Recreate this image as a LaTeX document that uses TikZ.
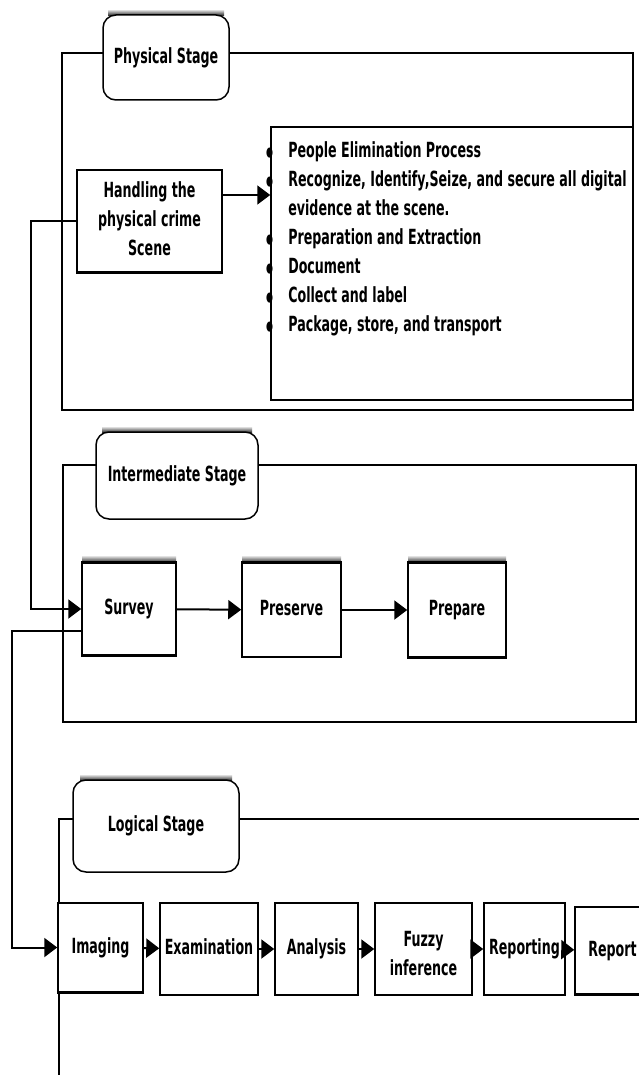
\documentclass[tikz,border=0pt]{standalone}
\usepackage{fontspec}
\usepackage{graphicx}
\setmainfont{DejaVu Sans}
\usetikzlibrary{arrows.meta}
\newcommand{\stk}[1]{\scalebox{0.89}[1.47]{\begin{tabular}{@{}c@{}}#1\end{tabular}}}
\newcommand{\bul}{\raisebox{0.6pt}{\fontsize{9pt}{9pt}\selectfont ●}}
\begin{document}
\begin{tikzpicture}[x=1pt,y=1pt,
  every node/.style={font=\bfseries\fontsize{14.2pt}{19.7pt}\selectfont, inner sep=0pt},
  box/.style={draw, line width=1.5pt, fill=white, align=center},
  stagelbl/.style={draw, line width=1.5pt, rounded corners=13pt, fill=white},
  frame/.style={line width=1.4pt},
  arr/.style={line width=2pt, -{Triangle[length=13pt,width=19pt]}},
  shadowband/.style={top color=white, bottom color=black!90, middle color=black!45},
  heavy/.style={line width=2.8pt}
]
\clip (0,0) rectangle (639,-1075);
\fill[white] (0,0) rectangle (639,-1075);

% ---------- frames ----------
\draw[frame] (62,-53) rectangle (633,-410);
\draw[frame] (63,-465) rectangle (636,-722);
\draw[frame] (59,-1080) -- (59,-819) -- (645,-819);

% ---------- physical stage ----------
\shade[shadowband] (108,-9) rectangle (224,-16);
\node[stagelbl, minimum width=126pt, minimum height=85pt] (ps) at (166,-57.5) {\stk{Physical Stage}};
\node[box, minimum width=145pt, minimum height=102pt] (handle) at (149.5,-221)
  {\stk{Handling the\\physical crime\\Scene}};
\draw[heavy] (handle.south west) -- (handle.south east);
\node[draw, line width=1.5pt, fill=white, minimum width=362pt, minimum height=273pt] (list) at (452,-263.5) {};
\node[anchor=north west] (listtxt) at (266,-137) {\scalebox{0.89}[1.47]{\begin{tabular}{@{}l@{\hspace{17pt}}l@{}}
\bul & People Elimination Process\\
\bul & Recognize, Identify,Seize, and secure all digital\\
 & evidence at the scene.\\
\bul & Preparation and Extraction\\
\bul & Document\\
\bul & Collect and label\\
\bul & Package, store, and transport
\end{tabular}}};
\draw[arr] ([yshift=26pt]handle.east) -- ([yshift=26pt]handle.east -| list.west);

% ---------- intermediate stage ----------
\shade[shadowband] (102,-426) rectangle (252,-433);
\node[stagelbl, minimum width=162pt, minimum height=87pt] (is) at (177,-475.5) {\stk{Intermediate Stage}};
\shade[shadowband] (82,-555) rectangle (176,-563);
\shade[shadowband] (242,-555) rectangle (341,-563);
\shade[shadowband] (408,-555) rectangle (506,-563);
\node[box, minimum width=94pt, minimum height=92pt] (survey) at (129,-609) {\stk{Survey}};
\node[box, minimum width=99pt, minimum height=94pt] (preserve) at (291.5,-610) {\stk{Preserve}};
\node[box, minimum width=98pt, minimum height=94pt] (prepare) at (457,-610) {\stk{Prepare}};
\draw[heavy] (survey.north west) -- (survey.north east);
\draw[heavy] (preserve.north west) -- (preserve.north east);
\draw[heavy] (prepare.north west) -- (prepare.north east);
\draw[heavy] (survey.south west) -- (survey.south east);
\draw[heavy] (prepare.south west) -- (prepare.south east);
\draw[arr] (survey) -- (preserve);
\draw[arr] (preserve) -- (prepare);

% ---------- logical stage ----------
\shade[shadowband] (80,-774) rectangle (232,-781);
\node[stagelbl, minimum width=166pt, minimum height=92pt] (ls) at (156,-826) {\stk{Logical Stage}};
\node[box, minimum width=85pt, minimum height=89pt] (imaging) at (100.5,-947.5) {\stk{Imaging}};
\node[box, minimum width=98pt, minimum height=92pt] (exam) at (209,-949) {\stk{Examination}};
\node[box, minimum width=83pt, minimum height=92pt] (analysis) at (316.5,-949) {\stk{Analysis}};
\node[box, minimum width=97pt, minimum height=92pt] (fuzzy) at (423.5,-949) {\raisebox{-6pt}[\height][\depth]{\stk{Fuzzy\\inference}}};
\node[box, minimum width=81pt, minimum height=92pt] (reporting) at (524.5,-949) {\stk{Reporting}};
\node[box, minimum width=75pt, minimum height=87pt] (report) at (612.5,-950.5) {\stk{Report}};
\draw[heavy] (imaging.south west) -- (imaging.south east);
\draw[heavy] (report.south west) -- (report.south east);
\draw[arr] (imaging) -- (exam);
\draw[arr] (exam) -- (analysis);
\draw[arr] (analysis) -- (fuzzy);
\draw[arr] (fuzzy) -- (reporting);
\draw[arr] (reporting) -- (report);

% ---------- long connectors ----------
\draw[arr] (handle.west) -- ++(-45,0) |- (survey.west);
\draw[arr] ([yshift=-22pt]survey.west) -- ++(-69,0) |- (imaging.west);
\end{tikzpicture}
\end{document}
